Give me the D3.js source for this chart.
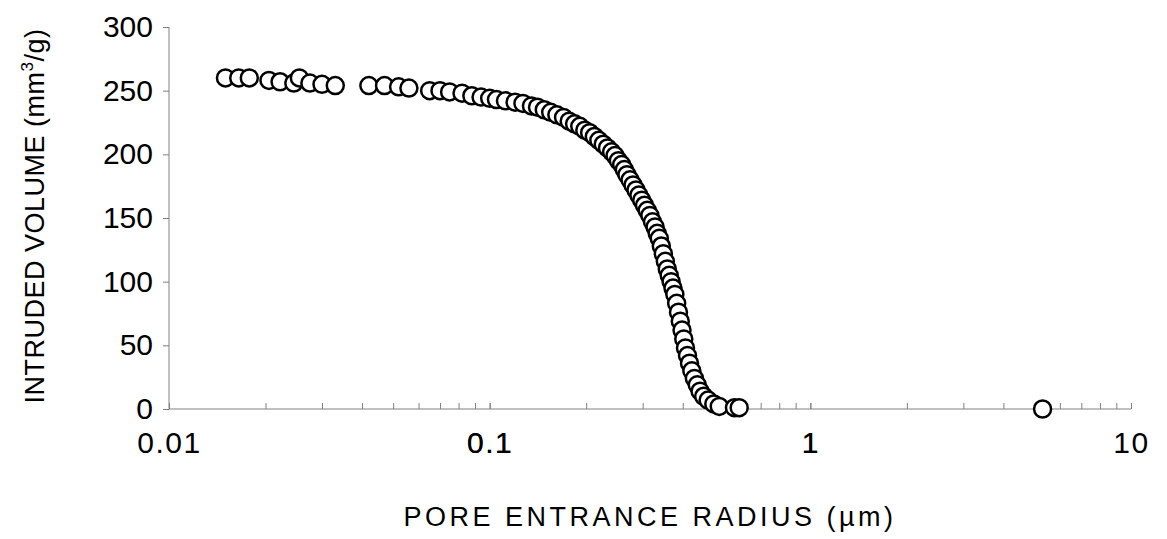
<!DOCTYPE html><html><head><script src="https://cdn.jsdelivr.net/npm/d3@7"></script>
<style>body{margin:0;background:#fff}text{font-family:Arial,"Liberation Sans",sans-serif}</style></head><body>
<svg id="c" width="1167" height="539"></svg>
<script>
const radius=[0.0150,0.0165,0.0178,0.0205,0.0222,0.0245,0.0255,0.0275,0.030,0.033,0.042,0.047,0.052,0.056,0.065,0.070,0.075,0.082,0.088,0.094,0.100,0.105,0.112,0.120,0.127,0.135,0.141,0.148,0.155,0.162,0.170,0.177,0.184,0.191,0.198,0.205,0.212,0.219,0.226,0.233,0.240,0.246,0.252,0.258,0.263,0.268,0.274,0.280,0.286,0.292,0.298,0.304,0.310,0.316,0.322,0.328,0.333,0.338,0.343,0.348,0.353,0.358,0.363,0.368,0.373,0.378,0.383,0.388,0.393,0.398,0.403,0.408,0.414,0.420,0.427,0.435,0.444,0.453,0.465,0.48,0.50,0.52,0.58,0.60,5.3];
const volume=[260,260,260,258,257,256,260,256,255,254,254,254,253,252,250,250,249,248,246,245,244,243,242,241,240,238,237,235,233,231,229,226,224,222,219,217,214,211,208,205,202,199,195,192,188,184,180,176,172,168,164,160,156,152,147,143,138,134,128,122,116,110,105,100,95,90,83,76,69,62,55,48,42,36,30,24,19,14,10,7,4,2,1,1,0,0];
const xTicks=[0.01,0.1,1,10], yTicks=[0,50,100,150,200,250,300];
const svg=d3.select("#c");
const x=d3.scaleLog().domain([0.01,10]).range([169,1131]);
const y=d3.scaleLinear().domain([0,300]).range([409,27]);
const minor=[];for(let e=-2;e<1;e++)for(let k=1;k<=10;k++)minor.push(k*Math.pow(10,e));
const gx=svg.append("g").attr("transform","translate(0,409)").call(d3.axisBottom(x).tickValues(minor).tickSize(6).tickFormat(d=>xTicks.some(t=>Math.abs(t-d)/t<1e-6)?d3.format("~g")(d):""));
gx.selectAll("line").attr("y1",-6).attr("y2",0).attr("stroke","#808080");
gx.select(".domain").attr("stroke","#808080").attr("d","M169,0H1131");
gx.selectAll("text").attr("font-size",30).attr("letter-spacing",1.5).attr("dy","1.15em").attr("fill","#000");
const gy=svg.append("g").attr("transform","translate(169,0)").call(d3.axisLeft(y).tickValues(yTicks).tickSize(6).tickPadding(10));
gy.select(".domain").attr("stroke","#808080").attr("d","M0,27V409");
gy.selectAll("line").attr("stroke","#808080");
gy.selectAll("text").attr("font-size",30).attr("fill","#000");
svg.append("g").selectAll("circle").data(radius.map((r,i)=>[r,volume[i]])).join("circle")
 .attr("cx",d=>x(d[0])).attr("cy",d=>y(d[1])).attr("r",8.5).attr("fill","#fff").attr("stroke","#000").attr("stroke-width",2.5);
svg.append("text").attr("x",650).attr("y",526).attr("text-anchor","middle").attr("font-size",27).attr("letter-spacing",3.5).text("PORE ENTRANCE RADIUS (µm)");
const yl=svg.append("text").attr("transform","translate(44,216) rotate(-90)").attr("text-anchor","middle").attr("font-size",27).attr("letter-spacing",0.5);
yl.append("tspan").text("INTRUDED VOLUME (mm");
yl.append("tspan").attr("font-size",17).attr("dy",-11).text("3");
yl.append("tspan").attr("dy",11).text("/g)");
</script></body></html>
